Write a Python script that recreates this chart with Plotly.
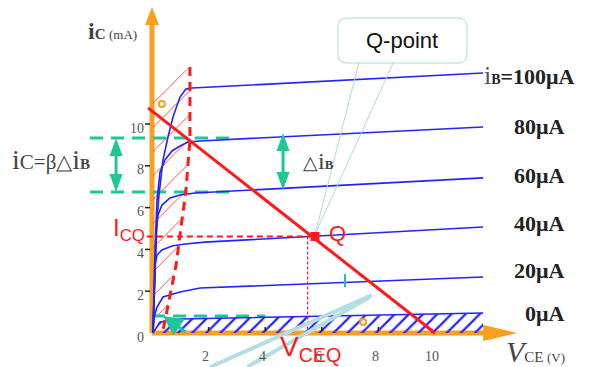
import numpy as np
import plotly.graph_objects as go

# ---------------- data (V_CE in volts, i_C in mA) ----------------
ib_labels = ["100μA", "80μA", "60μA", "40μA", "20μA", "0μA"]
label_i = [12.30, 9.90, 7.56, 5.22, 3.01, 0.91]

v_100 = [0.035, 0.106, 0.177, 0.247, 0.318, 0.389, 0.565, 0.742, 0.989, 1.20, 1.41, 5.23, 11.70]
i_100 = [0.0, 2.54, 5.41, 6.60, 7.46, 8.28, 9.38, 10.33, 11.29, 11.67, 11.72, 11.99, 12.44]
v_80 = [0.035, 0.106, 0.177, 0.283, 0.459, 0.707, 0.989, 1.27, 1.70, 11.70]
i_80 = [0.0, 3.97, 6.36, 7.70, 8.28, 8.71, 8.95, 9.14, 9.19, 9.86]
v_60 = [0.035, 0.106, 0.141, 0.212, 0.353, 0.636, 0.989, 1.52, 11.70]
i_60 = [0.0, 3.01, 4.69, 5.65, 6.12, 6.46, 6.60, 6.70, 7.42]
v_40 = [0.035, 0.071, 0.106, 0.177, 0.353, 0.707, 1.17, 1.87, 11.70]
i_40 = [0.0, 2.06, 3.25, 3.73, 3.97, 4.16, 4.26, 4.35, 5.07]
v_20 = [0.035, 0.071, 0.177, 0.389, 0.989, 1.70, 11.70]
i_20 = [0.0, 0.72, 1.24, 1.72, 1.96, 2.15, 2.68]
v_0 = [0.035, 0.283, 0.989, 11.70]
i_0 = [0.0, 0.53, 0.67, 0.96]

sat_v = [1.34, 1.34, 1.20, 1.02, 0.85, 0.64, 0.39]
sat_i = [12.73, 9.23, 6.84, 4.93, 3.25, 1.82, 0.14]
sat_hatch_top = 11.4

load_v = [-0.14, 10.0]
load_i = [10.77, 0.0]

q_v, q_i = 5.76, 4.62
vceq_mark = 5.5
icq_start = -0.18

beta_hi, beta_lo = 9.33, 6.75
beta_v = [-2.19, 2.86]
beta_arrow_v = -1.27
dib_v, dib_hi, dib_lo = 4.63, 9.57, 6.84
cut_level, cut_v = 0.81, [0.0, 4.0]

ytick_vals = [0, 2, 4, 6, 8, 10]
xtick_vals = [2, 4, 6, 8, 10]

box_v = [6.57, 11.13]
box_i = [12.92, 15.07]
callout_v = [7.31, 8.52]

leader_a_v, leader_a_i = [7.77, 2.05], [1.82, -1.63]
leader_b_v, leader_b_i = [7.70, 3.36], [1.72, -1.63]

orange_dots_v = [0.35, 7.46]
orange_dots_i = [10.96, 0.53]

# ---------------- layout helpers ----------------
# page body has an 8px margin, so the figure is 8px smaller than the window
W, H = 587, 359
PXV, PXI = 28.3, 20.9          # pixels per volt / per mA
OX, OY = 144, 325              # origin position in figure pixels
X0, X1 = -OX / PXV, (W - OX) / PXV
Y0, Y1 = (OY - H) / PXI, OY / PXI
def dx(px): return px / PXV
def dy(px): return px / PXI

BLUE = "rgb(35,35,255)"
RED = "rgb(255,25,25)"
GREEN = "rgb(30,200,150)"
ORANGE = "rgb(250,160,30)"
CYAN = "rgb(168,220,224)"
SERIF = "Liberation Serif"
SANS = "Liberation Sans"

fig = go.Figure()

# saturation-region red hatch
hv = [0.035, 0.035] + sat_v + [0.035]
hi = [0.0, sat_hatch_top] + sat_i + [0.0]
fig.add_trace(go.Scatter(x=hv, y=hi, mode="lines", line=dict(width=0), fill="toself",
                         fillcolor="rgb(255,40,40)",
                         fillpattern=dict(shape="/", fgcolor="rgb(255,40,40)", fgopacity=1,
                                          bgcolor="rgba(0,0,0,0)", size=17, solidity=0.05)))
# cut-off region blue hatch
cv = v_0 + [v_0[-1], v_0[0]]
ci = i_0 + [0.0, 0.0]
fig.add_trace(go.Scatter(x=cv, y=ci, mode="lines", line=dict(width=0), fill="toself",
                         fillcolor=BLUE,
                         fillpattern=dict(shape="/", fgcolor=BLUE, fgopacity=1,
                                          bgcolor="rgba(0,0,0,0)", size=10, solidity=0.22)))

# green dashed helper lines
for lvl in (beta_hi, beta_lo):
    fig.add_trace(go.Scatter(x=beta_v, y=[lvl, lvl], mode="lines",
                             line=dict(color=GREEN, width=3, dash="13px,8px")))
fig.add_trace(go.Scatter(x=cut_v, y=[cut_level, cut_level], mode="lines",
                         line=dict(color=GREEN, width=3, dash="13px,8px")))

# characteristic curves
for vv, ii in [(v_100, i_100), (v_80, i_80), (v_60, i_60), (v_40, i_40), (v_20, i_20), (v_0, i_0)]:
    fig.add_trace(go.Scatter(x=vv, y=ii, mode="lines", line=dict(color=BLUE, width=1.6)))

# saturation boundary
fig.add_trace(go.Scatter(x=sat_v, y=sat_i, mode="lines", line=dict(color=RED, width=3, dash="9px,6px")))

# ICQ / VCEQ guides
fig.add_trace(go.Scatter(x=[icq_start, q_v], y=[q_i, q_i], mode="lines",
                         line=dict(color=RED, width=2, dash="6px,4px")))
fig.add_trace(go.Scatter(x=[vceq_mark, vceq_mark], y=[q_i, 0], mode="lines",
                         line=dict(color=RED, width=1.2, dash="3px,2px")))

# light blue leaders
for lv, li in [(leader_a_v, leader_a_i), (leader_b_v, leader_b_i)]:
    fig.add_trace(go.Scatter(x=lv, y=li, mode="lines", line=dict(color="rgb(180,222,228)", width=4)))
for cvx in callout_v:
    fig.add_trace(go.Scatter(x=[cvx, q_v], y=[box_i[0], q_i + 0.1], mode="lines",
                             line=dict(color=CYAN, width=1)))

# load line and Q point
fig.add_trace(go.Scatter(x=load_v, y=load_i, mode="lines", line=dict(color=RED, width=3)))
fig.add_trace(go.Scatter(x=[q_v], y=[q_i], mode="markers",
                         marker=dict(symbol="square", size=9, color=RED)))

# small green ticks and orange marks
fig.add_trace(go.Scatter(x=[6.82, 6.82], y=[2.2, 2.82], mode="lines", line=dict(color=GREEN, width=2)))
fig.add_trace(go.Scatter(x=orange_dots_v, y=orange_dots_i, mode="markers",
                         marker=dict(symbol="circle-open", size=6, color=ORANGE, line=dict(width=2))))

shapes = []
# orange axes
shapes.append(dict(type="line", x0=0, x1=0, y0=0, y1=14.8, line=dict(color=ORANGE, width=5), layer="below"))
shapes.append(dict(type="line", x0=0, x1=11.75, y0=0, y1=0, line=dict(color=ORANGE, width=5), layer="below"))
ytip = dy(333 - 7)
ybase = dy(333 - 25)
shapes.append(dict(type="path", path=f"M {-dx(7)},{ybase} L 0,{ytip} L {dx(7)},{ybase} Z",
                   fillcolor=ORANGE, line=dict(width=0), layer="below"))
xtip = 12.9
xbase = 11.70
shapes.append(dict(type="path", path=f"M {xbase},{dy(8)} L {xtip},0 L {xbase},{-dy(8)} Z",
                   fillcolor=ORANGE, line=dict(width=0), layer="below"))
# tick marks
for t in ytick_vals[1:]:
    shapes.append(dict(type="line", x0=-dx(7), x1=-dx(2), y0=t, y1=t, line=dict(color="#222", width=1.5)))
for t in xtick_vals[:-1]:
    shapes.append(dict(type="line", x0=t, x1=t, y0=dy(2), y1=dy(6), line=dict(color="#222", width=1.5)))

# green double arrows
def dbl_arrow(v, top, bot):
    out = [dict(type="line", x0=v, x1=v, y0=top - dy(10), y1=bot + dy(10), line=dict(color=GREEN, width=3))]
    hw, hh = dx(6.5), dy(18)
    out.append(dict(type="path", path=f"M {v-hw},{top-hh} L {v},{top} L {v+hw},{top-hh} Z",
                    fillcolor=GREEN, line=dict(width=0)))
    out.append(dict(type="path", path=f"M {v-hw},{bot+hh} L {v},{bot} L {v+hw},{bot+hh} Z",
                    fillcolor=GREEN, line=dict(width=0)))
    return out
shapes += dbl_arrow(beta_arrow_v, beta_hi, beta_lo)
shapes += dbl_arrow(dib_v, dib_hi, dib_lo)

# Q-point rounded box
bx0, bx1 = box_v
by0, by1 = box_i
rx, ry = dx(9), dy(9)
shapes.append(dict(type="path", line=dict(color=CYAN, width=1), fillcolor="white",
                   path=(f"M {bx0+rx},{by1} L {bx1-rx},{by1} Q {bx1},{by1} {bx1},{by1-ry} "
                         f"L {bx1},{by0+ry} Q {bx1},{by0} {bx1-rx},{by0} L {bx0+rx},{by0} "
                         f"Q {bx0},{by0} {bx0},{by0+ry} L {bx0},{by1-ry} Q {bx0},{by1} {bx0+rx},{by1} Z")))

ann = []
# tick labels
for t in ytick_vals:
    ann.append(dict(x=-dx(6), y=t, text=str(t), showarrow=False, xanchor="right", yanchor="middle",
                    yshift=-4, font=dict(family=SERIF, size=14, color="#555")))
for t in xtick_vals:
    ann.append(dict(x=t, y=-dy(23), text=str(t), showarrow=False, xanchor="center", yanchor="middle",
                    xshift=-3, font=dict(family=SERIF, size=14, color="#555")))

# iB labels
ann.append(dict(x=11.66, y=label_i[0], xanchor="left", yanchor="middle", showarrow=False,
                text="<span style='font-size:26px;color:#555'>i</span><b><span style='font-size:14px'>B</span>=" + ib_labels[0] + "</b>",
                font=dict(family=SERIF, size=22, color="#222")))
for lab, li in zip(ib_labels[1:], label_i[1:]):
    ann.append(dict(x=14.63, y=li, xanchor="right", yanchor="middle", showarrow=False,
                    text="<b>" + lab + "</b>", font=dict(family=SERIF, size=22, color="#222")))

# axis titles
ann.append(dict(x=-1.4, y=14.45, showarrow=False, xanchor="center", yanchor="middle",
                text="<b><span style='font-size:24px'>i</span><span style='font-size:15px'>C</span></b> <span style='font-size:13px'>(mA)</span>",
                font=dict(family=SERIF, size=14, color="#444")))
ann.append(dict(x=13.55, y=-0.88, showarrow=False, xanchor="center", yanchor="middle",
                text="<i><span style='font-size:30px'>V</span></i><span style='font-size:15px'>CE</span> <span style='font-size:13px'>(V)</span>",
                font=dict(family=SERIF, size=14, color="#444")))

# formula labels
ann.append(dict(x=-3.57, y=8.28, showarrow=False, xanchor="center", yanchor="middle",
                text="<span style='font-size:28px'>i</span>C=β△<span style='font-size:28px'>i</span><b><span style='font-size:15px'>B</span></b>",
                font=dict(family=SERIF, size=21, color="#444")))
ann.append(dict(x=5.87, y=8.23, showarrow=False, xanchor="center", yanchor="middle",
                text="△<span style='font-size:24px'>i</span><b><span style='font-size:13px'>B</span></b>",
                font=dict(family=SERIF, size=19, color="#444")))

# red labels
ann.append(dict(x=-0.17, y=4.95, showarrow=False, xanchor="right", yanchor="middle",
                text="I<sub>CQ</sub>", font=dict(family=SANS, size=24, color=RED)))
ann.append(dict(x=6.57, y=4.78, showarrow=False, xanchor="center", yanchor="middle",
                text="Q", font=dict(family=SANS, size=22, color=RED)))
ann.append(dict(x=5.6, y=-0.72, showarrow=False, xanchor="center", yanchor="middle",
                text="V<sub>CEQ</sub>", font=dict(family=SANS, size=28, color=RED)))

# Q-point box text
ann.append(dict(x=(bx0 + bx1) / 2, y=(by0 + by1) / 2, showarrow=False, xanchor="center", yanchor="middle",
                text="Q-point", font=dict(family=SANS, size=22, color="#111")))

# green arrow near origin
ann.append(dict(x=0.39, y=0.81, ax=1.24, ay=0.0, axref="x", ayref="y", xref="x", yref="y",
                text="", showarrow=True, arrowhead=2, arrowsize=1.3, arrowwidth=3, arrowcolor=GREEN))

fig.update_layout(
    width=W, height=H, margin=dict(l=0, r=0, t=0, b=0),
    paper_bgcolor="white", plot_bgcolor="white", showlegend=False,
    xaxis=dict(range=[X0, X1], visible=False, fixedrange=True),
    yaxis=dict(range=[Y0, Y1], visible=False, fixedrange=True),
    shapes=shapes, annotations=ann,
)
fig.write_html("out.html")
